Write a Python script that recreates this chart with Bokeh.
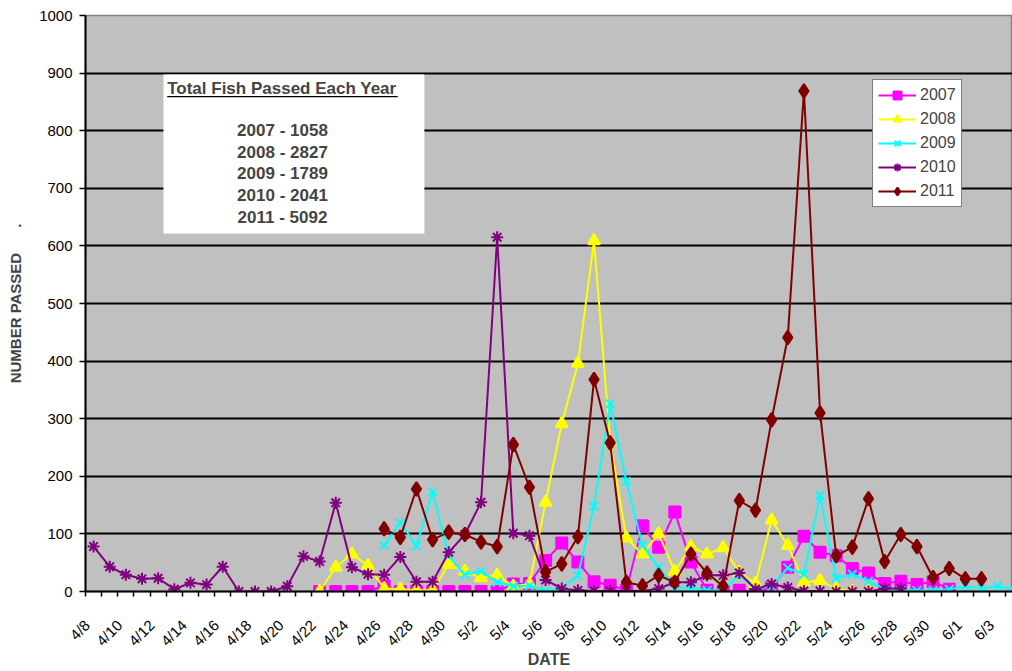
import math
from bokeh.plotting import figure
from bokeh.models import Range1d, FixedTicker, Label, BoxAnnotation
from bokeh.embed import file_html
from bokeh.resources import INLINE

# ---------------- data ----------------
dates = ["4/8", "4/9", "4/10", "4/11", "4/12", "4/13", "4/14", "4/15", "4/16", "4/17",
         "4/18", "4/19", "4/20", "4/21", "4/22", "4/23", "4/24", "4/25", "4/26", "4/27",
         "4/28", "4/29", "4/30", "5/1", "5/2", "5/3", "5/4", "5/5", "5/6", "5/7",
         "5/8", "5/9", "5/10", "5/11", "5/12", "5/13", "5/14", "5/15", "5/16", "5/17",
         "5/18", "5/19", "5/20", "5/21", "5/22", "5/23", "5/24", "5/25", "5/26", "5/27",
         "5/28", "5/29", "5/30", "5/31", "6/1", "6/2", "6/3", "6/4"]

N = None
fish_2007 = [N, N, N, N, N, N, N, N, N, N, N, N, N, N,
             0, 0, 0, 0, 10, 0, 0, 0, 0, 0, 0, 0, 13, 14, 54, 84, 51, 17, 11, 2,
             114, 77, 138, 51, 2, 0, 2, 0, 7, 42, 96, 68, 62, 40, 32, 14, 18, 12, 17, 4,
             N, N, N, N]
fish_2008 = [N, N, N, N, N, N, N, N, N, N, N, N, N, N,
             0, 42, 65, 45, 5, 4, 2, 2, 47, 35, 24, 28, 9, 13, 155, 291, 396, 609, 260, 93,
             65, 100, 35, 78, 65, 76, 33, 14, 124, 80, 16, 19, 5, 0, 0,
             N, N, N, N, N, N, N, N, N]
fish_2009 = [N, N, N, N, N, N, N, N, N, N, N, N, N, N, N, N, N, N,
             80, 120, 79, 173, 62, 29, 35, 16, 9, 10, 1, 5, 28, 148, 326, 191, 80, 42,
             6, 7, 2, 2, 29, 5, 9, 41, 30, 167, 23, 30, 18, 4, 4, 2, 2, 4, 9, 5, 9, 3]
fish_2010 = [78, 43, 29, 22, 23, 4, 15, 12, 43, 0, 0, 0, 9, 61, 52, 154, 42, 30, 29, 60,
             17, 17, 68, 99, 155, 615, 101, 97, 20, 5, 2, 1, 1, 1, 1, 5, 16, 16, 28, 28,
             32, 4, 13, 7, 1, 1, 0, 0, 0, 5, 5,
             N, N, N, N, N, N, N]
fish_2011 = [N, N, N, N, N, N, N, N, N, N, N, N, N, N, N, N, N, N,
             109, 94, 178, 90, 103, 99, 86, 78, 255, 181, 34, 48, 95, 368, 258, 16, 10, 28,
             16, 65, 32, 9, 158, 141, 298, 441, 869, 310, 62, 77, 161, 52, 99, 78, 24, 40,
             22, 22, N, N]

years = ["2007", "2008", "2009", "2010", "2011"]
box_title = "Total Fish Passed Each Year"
box_lines = ["2007 - 1058", "2008 - 2827", "2009 - 1789", "2010 - 2041", "2011 - 5092"]
y_ticks = [0, 100, 200, 300, 400, 500, 600, 700, 800, 900, 1000]

# ---------------- styles ----------------
FONT = "Liberation Sans"
styles = [
    dict(color="#FF00FF", marker="square", size=11),
    dict(color="#FFFF00", marker="triangle", size=12),
    dict(color="#00FFFF", marker="x", size=12),
    dict(color="#800080", marker="asterisk", size=12),
    dict(color="#800000", marker="diamond", size=14),
]
series = [fish_2007, fish_2008, fish_2009, fish_2010, fish_2011]

p = figure(width=1012, height=671,
           x_range=Range1d(-0.5, 56.92), y_range=Range1d(0, 1000),
           output_backend="svg", toolbar_location=None,
           min_border_left=85, min_border_right=0, min_border_top=15, min_border_bottom=80)
p.background_fill_color = "#C0C0C0"
p.border_fill_color = "white"
p.outline_line_color = "#808080"
p.outline_line_width = 1.5

x_idx = list(range(len(dates)))
for yr, vals, st in zip(years, series, styles):
    ys = [float("nan") if v is None else v for v in vals]
    p.line(x_idx, ys, line_color=st["color"], line_width=2, legend_label=yr)
    p.scatter(x_idx, ys, marker=st["marker"], size=st["size"],
              fill_color=st["color"], line_color=st["color"], line_width=2,
              legend_label=yr)

# axes
p.xgrid.visible = False
p.ygrid.grid_line_color = "black"
p.ygrid.grid_line_width = 2
p.yaxis.ticker = FixedTicker(ticks=y_ticks)
p.yaxis.major_tick_out = 6
p.yaxis.major_tick_in = 0
p.yaxis.minor_tick_line_color = None
p.yaxis.axis_line_width = 2
p.yaxis.major_tick_line_width = 1.5
p.yaxis.major_label_text_font = FONT
p.yaxis.major_label_text_font_size = "15px"
p.yaxis.major_label_text_color = "black"
p.yaxis.major_label_standoff = 7
p.yaxis.axis_label = "NUMBER PASSED" + "\u00a0" * 6 + "."
p.yaxis.axis_label_text_font = FONT
p.yaxis.axis_label_text_font_style = "bold"
p.yaxis.axis_label_text_font_size = "15px"
p.yaxis.axis_label_standoff = 12

# labels anchored slightly left of each category centre, as in the source
label_pos = [i - 0.4 for i in range(0, len(dates), 2)]
p.xaxis.ticker = FixedTicker(ticks=label_pos,
                             minor_ticks=[i - 0.5 for i in range(len(dates) + 1)])
p.xaxis.major_label_overrides = {pos: dates[i] for pos, i in zip(label_pos, range(0, len(dates), 2))}
p.xaxis.major_tick_out = 0
p.xaxis.major_tick_in = 0
p.xaxis.minor_tick_out = 5
p.xaxis.minor_tick_in = 0
p.xaxis.minor_tick_line_color = "black"
p.xaxis.minor_tick_line_width = 1.5
p.xaxis.axis_line_width = 2
p.xaxis.major_label_orientation = math.pi / 4
p.xaxis.major_label_text_font = FONT
p.xaxis.major_label_text_font_size = "15px"
p.xaxis.major_label_text_color = "black"
p.xaxis.major_label_standoff = 26
p.xaxis.axis_label = "DATE"
p.xaxis.axis_label_text_font = FONT
p.xaxis.axis_label_text_font_style = "bold"
p.xaxis.axis_label_text_font_size = "16px"
p.xaxis.axis_label_standoff = -7

# legend
lg = p.legend[0]
lg.location = (787, 384)
lg.border_line_color = "black"
lg.border_line_width = 1.5
lg.background_fill_color = "white"
lg.background_fill_alpha = 1
lg.label_text_font = FONT
lg.label_text_font_size = "16px"
lg.glyph_width = 38
lg.glyph_height = 20
lg.label_height = 20
lg.spacing = 4
lg.padding = 5
lg.margin = 0
lg.label_standoff = 4

# totals box (positions in data units)
p.add_layout(BoxAnnotation(left=4.33, right=20.49, bottom=621.5, top=897.6,
                           fill_color="white", fill_alpha=1, line_color=None))
p.add_layout(Label(x=4.56, y=873.2, text=box_title, text_font=FONT,
                   text_font_style="bold", text_font_size="17px",
                   text_align="left", text_baseline="alphabetic"))
ul = p.segment(x0=[4.56], y0=[859.0], x1=[18.84], y1=[859.0],
               line_color="black", line_width=1.2)
ul.level = "overlay"
for i, t in enumerate(box_lines):
    p.add_layout(Label(x=11.7, y=800.3 - i * 37.6, text=t, text_font=FONT,
                       text_font_style="bold", text_font_size="17px",
                       text_align="center", text_baseline="alphabetic"))

open("out.html", "w").write(file_html(p, INLINE))
